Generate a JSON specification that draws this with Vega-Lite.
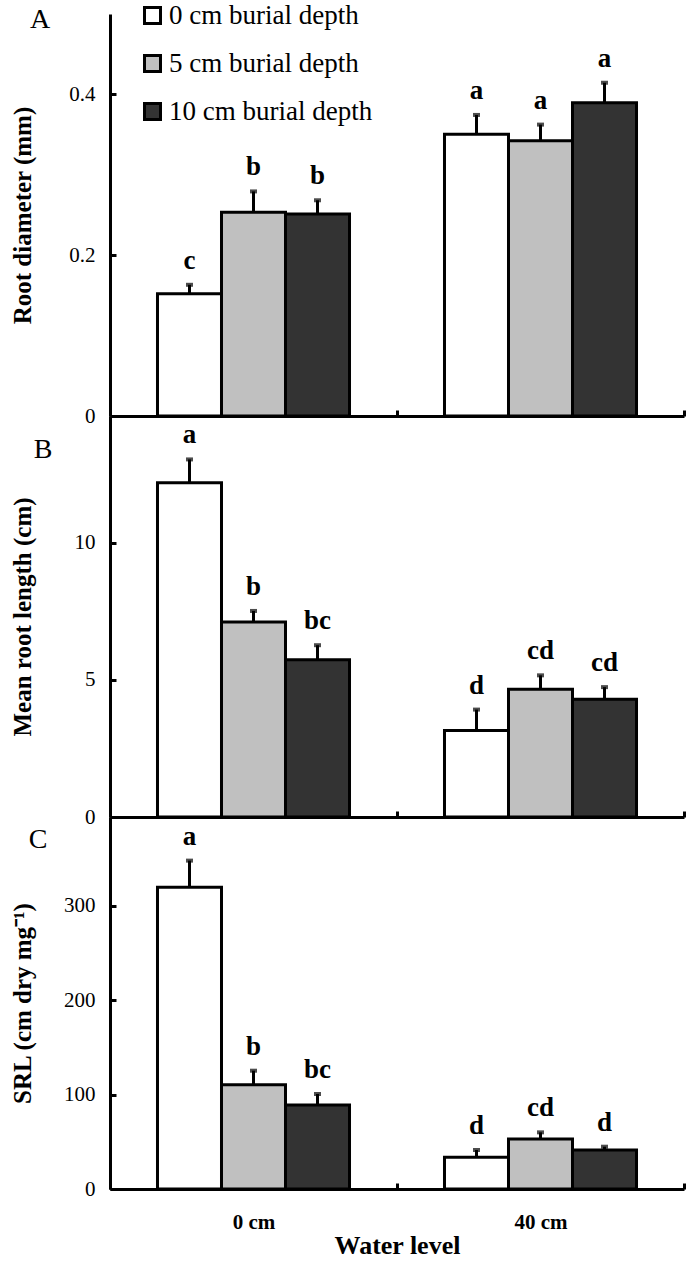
{
  "$schema": "https://vega.github.io/schema/vega-lite/v6.json",
  "autosize": {"type": "pad"},
  "padding": {"left": 10, "top": 2, "right": 0, "bottom": 0},
  "spacing": 0,
  "bounds": "flush",
  "background": "white",
  "config": {
    "view": {"stroke": null},
    "font": "Liberation Serif",
    "axis": {"grid": false, "domainColor": "black", "domainWidth": 3, "tickColor": "black", "tickWidth": 3, "tickSize": -6, "labelColor": "black", "titleColor": "black", "labelFont": "Liberation Serif", "titleFont": "Liberation Serif"},
    "axisY": {"labelFontSize": 21, "labelPadding": 21, "titleFontSize": 25, "titleFontWeight": "bold", "titleX": -88, "titleBaseline": "middle", "titleAlign": "center"},
    "axisX": {"tickBand": "extent", "labelAngle": 0},
    "legend": {"orient": "none", "legendX": 29, "legendY": -12, "symbolType": "square", "symbolSize": 256, "symbolStrokeColor": "black", "symbolStrokeWidth": 3, "labelFontSize": 27, "labelFont": "Liberation Serif", "labelColor": "black", "labelLimit": 0, "rowPadding": 19, "labelOffset": 3, "title": null}
  },
  "resolve": {"legend": {"fill": "independent"}},
  "data": {"values": [
    {"panel": "A", "water": "0 cm", "depth": "0 cm burial depth", "value": 0.152, "err": 0.163, "letter": "c"},
    {"panel": "A", "water": "0 cm", "depth": "5 cm burial depth", "value": 0.253, "err": 0.279, "letter": "b"},
    {"panel": "A", "water": "0 cm", "depth": "10 cm burial depth", "value": 0.251, "err": 0.268, "letter": "b"},
    {"panel": "A", "water": "40 cm", "depth": "0 cm burial depth", "value": 0.350, "err": 0.374, "letter": "a"},
    {"panel": "A", "water": "40 cm", "depth": "5 cm burial depth", "value": 0.342, "err": 0.362, "letter": "a"},
    {"panel": "A", "water": "40 cm", "depth": "10 cm burial depth", "value": 0.389, "err": 0.414, "letter": "a"},
    {"panel": "B", "water": "0 cm", "depth": "0 cm burial depth", "value": 12.2, "err": 13.05, "letter": "a"},
    {"panel": "B", "water": "0 cm", "depth": "5 cm burial depth", "value": 7.12, "err": 7.52, "letter": "b"},
    {"panel": "B", "water": "0 cm", "depth": "10 cm burial depth", "value": 5.74, "err": 6.27, "letter": "bc"},
    {"panel": "B", "water": "40 cm", "depth": "0 cm burial depth", "value": 3.16, "err": 3.92, "letter": "d"},
    {"panel": "B", "water": "40 cm", "depth": "5 cm burial depth", "value": 4.66, "err": 5.17, "letter": "cd"},
    {"panel": "B", "water": "40 cm", "depth": "10 cm burial depth", "value": 4.30, "err": 4.74, "letter": "cd"},
    {"panel": "C", "water": "0 cm", "depth": "0 cm burial depth", "value": 319.5, "err": 347.8, "letter": "a"},
    {"panel": "C", "water": "0 cm", "depth": "5 cm burial depth", "value": 110.5, "err": 125.3, "letter": "b"},
    {"panel": "C", "water": "0 cm", "depth": "10 cm burial depth", "value": 89.0, "err": 100.6, "letter": "bc"},
    {"panel": "C", "water": "40 cm", "depth": "0 cm burial depth", "value": 33.5, "err": 41.3, "letter": "d"},
    {"panel": "C", "water": "40 cm", "depth": "5 cm burial depth", "value": 53.0, "err": 60.0, "letter": "cd"},
    {"panel": "C", "water": "40 cm", "depth": "10 cm burial depth", "value": 41.3, "err": 44.8, "letter": "d"}
  ]},
  "vconcat": [
    {
      "width": 574, "height": 402,
      "transform": [{"filter": "datum.panel === 'A'"}],
      "encoding": {
        "x": {"field": "water", "type": "nominal", "sort": ["0 cm", "40 cm"], "scale": {"paddingInner": 0, "paddingOuter": 0}, "axis": {"labels": false, "title": null}},
        "xOffset": {"field": "depth", "type": "nominal", "sort": ["0 cm burial depth", "5 cm burial depth", "10 cm burial depth"], "scale": {"paddingInner": 0, "paddingOuter": 0.742}}
      },
      "layer": [
        {"mark": {"type": "bar", "stroke": "black", "strokeWidth": 3},
         "encoding": {
           "y": {"field": "value", "type": "quantitative", "scale": {"domain": [0, 0.4994], "nice": false}, "axis": {"values": [0, 0.2, 0.4], "format": "~g", "title": "Root diameter (mm)"}},
           "fill": {"field": "depth", "type": "nominal", "sort": ["0 cm burial depth", "5 cm burial depth", "10 cm burial depth"], "scale": {"range": ["#ffffff", "#c0c0c0", "#333333"]}}
         }},
        {"mark": {"type": "rule", "color": "black", "strokeWidth": 3},
         "encoding": {"y": {"field": "value", "type": "quantitative"}, "y2": {"field": "err"}}},
        {"mark": {"type": "tick", "color": "black", "size": 7, "thickness": 4, "orient": "horizontal"},
         "encoding": {"y": {"field": "err", "type": "quantitative"}}},
        {"mark": {"type": "text", "fontSize": 27, "fontWeight": "bold", "baseline": "alphabetic", "dy": -16, "color": "black"},
         "encoding": {"y": {"field": "err", "type": "quantitative"}, "text": {"field": "letter"}}},
        {"data": {"values": [{"label": "A", "water": "0 cm", "pos": 0.492}]},
         "mark": {"type": "text", "fontSize": 28, "baseline": "middle", "align": "center", "dx": -70, "color": "black"},
         "encoding": {"x": {"field": "water", "type": "nominal", "bandPosition": 0}, "xOffset": null, "y": {"field": "pos", "type": "quantitative"}, "text": {"field": "label"}}}
      ]
    },
    {
      "width": 574, "height": 401,
      "transform": [{"filter": "datum.panel === 'B'"}],
      "encoding": {
        "x": {"field": "water", "type": "nominal", "sort": ["0 cm", "40 cm"], "scale": {"paddingInner": 0, "paddingOuter": 0}, "axis": {"labels": false, "title": null}},
        "xOffset": {"field": "depth", "type": "nominal", "sort": ["0 cm burial depth", "5 cm burial depth", "10 cm burial depth"], "scale": {"paddingInner": 0, "paddingOuter": 0.742}}
      },
      "layer": [
        {"mark": {"type": "bar", "stroke": "black", "strokeWidth": 3},
         "encoding": {
           "y": {"field": "value", "type": "quantitative", "scale": {"domain": [0, 14.635], "nice": false}, "axis": {"values": [0, 5, 10], "title": "Mean root length (cm)"}},
           "fill": {"field": "depth", "type": "nominal", "sort": ["0 cm burial depth", "5 cm burial depth", "10 cm burial depth"], "scale": {"range": ["#ffffff", "#c0c0c0", "#333333"]}, "legend": null}
         }},
        {"mark": {"type": "rule", "color": "black", "strokeWidth": 3},
         "encoding": {"y": {"field": "value", "type": "quantitative"}, "y2": {"field": "err"}}},
        {"mark": {"type": "tick", "color": "black", "size": 7, "thickness": 4, "orient": "horizontal"},
         "encoding": {"y": {"field": "err", "type": "quantitative"}}},
        {"mark": {"type": "text", "fontSize": 27, "fontWeight": "bold", "baseline": "alphabetic", "dy": -16, "color": "black"},
         "encoding": {"y": {"field": "err", "type": "quantitative"}, "text": {"field": "letter"}}},
        {"data": {"values": [{"label": "B", "water": "0 cm", "pos": 13.4}]},
         "mark": {"type": "text", "fontSize": 28, "baseline": "middle", "align": "center", "dx": -67, "color": "black"},
         "encoding": {"x": {"field": "water", "type": "nominal", "bandPosition": 0}, "xOffset": null, "y": {"field": "pos", "type": "quantitative"}, "text": {"field": "label"}}}
      ]
    },
    {
      "width": 574, "height": 372,
      "transform": [{"filter": "datum.panel === 'C'"}],
      "encoding": {
        "x": {"field": "water", "type": "nominal", "sort": ["0 cm", "40 cm"], "scale": {"paddingInner": 0, "paddingOuter": 0}, "axis": {"labels": true, "title": "Water level", "labelFontSize": 21, "labelFontWeight": "bold", "labelPadding": 28, "titleFontSize": 26, "titleFontWeight": "bold", "titlePadding": 0}},
        "xOffset": {"field": "depth", "type": "nominal", "sort": ["0 cm burial depth", "5 cm burial depth", "10 cm burial depth"], "scale": {"paddingInner": 0, "paddingOuter": 0.742}}
      },
      "layer": [
        {"mark": {"type": "bar", "stroke": "black", "strokeWidth": 3},
         "encoding": {
           "y": {"field": "value", "type": "quantitative", "scale": {"domain": [0, 394], "nice": false}, "axis": {"values": [0, 100, 200, 300], "title": "SRL (cm dry mg⁻¹)"}},
           "fill": {"field": "depth", "type": "nominal", "sort": ["0 cm burial depth", "5 cm burial depth", "10 cm burial depth"], "scale": {"range": ["#ffffff", "#c0c0c0", "#333333"]}, "legend": null}
         }},
        {"mark": {"type": "rule", "color": "black", "strokeWidth": 3},
         "encoding": {"y": {"field": "value", "type": "quantitative"}, "y2": {"field": "err"}}},
        {"mark": {"type": "tick", "color": "black", "size": 7, "thickness": 4, "orient": "horizontal"},
         "encoding": {"y": {"field": "err", "type": "quantitative"}}},
        {"mark": {"type": "text", "fontSize": 27, "fontWeight": "bold", "baseline": "alphabetic", "dy": -16, "color": "black"},
         "encoding": {"y": {"field": "err", "type": "quantitative"}, "text": {"field": "letter"}}},
        {"data": {"values": [{"label": "C", "water": "0 cm", "pos": 370}]},
         "mark": {"type": "text", "fontSize": 28, "baseline": "middle", "align": "center", "dx": -72, "color": "black"},
         "encoding": {"x": {"field": "water", "type": "nominal", "bandPosition": 0}, "xOffset": null, "y": {"field": "pos", "type": "quantitative"}, "text": {"field": "label"}}}
      ]
    }
  ]
}
